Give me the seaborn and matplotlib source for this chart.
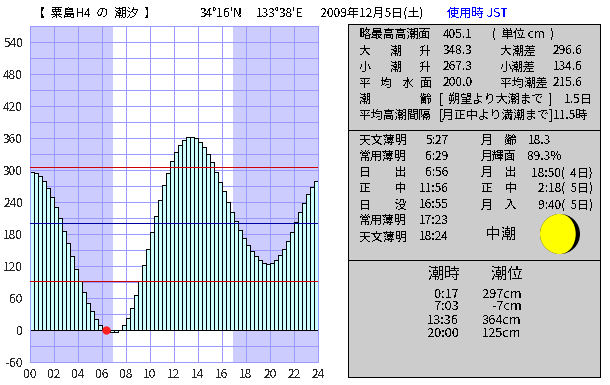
import matplotlib
matplotlib.use("Agg")
import matplotlib.pyplot as plt
from matplotlib.patches import Circle, Ellipse, Rectangle, Wedge
import numpy as np
import pandas as pd
import seaborn as sns

# tide level every 20 minutes (cm)
levels = [296, 295, 289, 279, 266, 249, 231, 210, 186, 163, 139, 114,
          92, 71, 51, 36, 21, 9, 1, -2, -3, -3, 0, 9,
          22, 42, 65, 92, 122, 152, 184, 214, 244, 272, 294, 317,
          334, 347, 356, 362, 362, 360, 352, 343, 330, 315, 296, 277,
          261, 240, 221, 204, 187, 172, 159, 148, 139, 131, 126, 124,
          126, 132, 141, 152, 167, 184, 202, 221, 238, 255, 268, 279]
bar_hours = 1 / 3
sunrise = 6 + 56 / 60
sunset = 16 + 55 / 60
red_levels = [306, 92]
mean_level = 200
dot_hour = [6.33]
dot_level = [0]
moon_lit = 0.893

y_major = list(range(-60, 541, 60))
y_minor = list(range(-30, 571, 60))
x_major = list(range(0, 25, 2))

title = "【  粟島H4  の  潮汐  】"
lat_text = "34°16'N"
lon_text = "133°38'E"
date_text = "2009年12月5日(土)"
zone_text = "使用時 JST"

thin = 0.5

sns.set_style("white")
plt.rcParams['font.family'] = ['Noto Sans CJK JP', 'DejaVu Sans']
plt.rcParams['text.antialiased'] = False

df = pd.DataFrame({
    'hour': (np.arange(len(levels)) + 0.5) * bar_hours,
    'level': levels,
})

fig = plt.figure(figsize=(6.1, 3.85), dpi=100)

# overlay in pixel coordinates for the text panels
ov = fig.add_axes([0, 0, 1, 1])
ov.set_xlim(0, 610)
ov.set_ylim(385, 0)
ov.axis('off')


def put(x, y, s, size=8.6, ha='left', color='black'):
    ov.text(x, y, s, fontsize=size, ha=ha, va='center', color=color)


# header
put(33, 13.5, title, 8.8)
put(200, 13.5, lat_text)
put(256, 13.5, lon_text)
put(320, 13.5, date_text, 8.7)
put(447, 13.5, zone_text, 8.8, color='#0000ff')

# panels
for top, bottom in [(24, 130), (130, 260), (260, 377)]:
    ov.add_patch(Rectangle((347.5, top), 252.5, bottom - top, fc='#cccccc', ec='black', lw=thin, antialiased=False))

# first panel
put(359, 34, "略最高高潮面")
put(443, 34, "405.1")
put(492, 34, "(  単位 cm  )")
for y, c, h, hv, v in [(51, "大", "348.3", "大潮差", "296.6"),
                       (67, "小", "267.3", "小潮差", "134.6")]:
    put(359, y, c)
    put(390, y, "潮")
    put(420, y, "升")
    put(443, y, h)
    put(500, y, hv)
    put(553, y, v)
put(359, 83, "平")
put(380, 83, "均")
put(402, 83, "水")
put(420, 83, "面")
put(443, 83, "200.0")
put(500, 83, "平均潮差")
put(553, 83, "215.6")
put(359, 99, "潮")
put(420, 99, "齢")
put(439, 99, "[  朔望より大潮まで  ]")
put(564, 99, "1.5日")
put(359, 115, "平均高潮間隔")
put(439, 115, "[月正中より満潮まで]")
put(553, 115, "11.5時")

# second panel
sun_rows = [("天文薄明", "5:27"), ("常用薄明", "6:29"), ("日　　出", "6:56"), ("正　　中", "11:56"),
            ("日　　没", "16:55"), ("常用薄明", "17:23"), ("天文薄明", "18:24")]
moon_rows = [("月　齢", "18.3"), ("月輝面", "89.3%"), ("月　出", "18:50(  4日)"),
             ("正　中", "2:18(  5日)"), ("月　入", "9:40(  5日)")]
rows_y = [140.3, 156.7, 172.7, 188.3, 205, 220.7, 236.7]
for y, (name, t) in zip(rows_y, sun_rows):
    put(359, y, name)
    put(448.7, y, t, ha='right')
for y, (name, t) in zip(rows_y, moon_rows):
    put(481, y, name)
    if '日' in t:
        put(592.7, y, t, ha='right')
    else:
        put(528, y, t)
put(501, 234, "中潮", 11.2, ha='center')

# moon, black disc with the lit part on top
moon_x, moon_y, moon_r = 560, 234, 20
ov.add_patch(Circle((moon_x, moon_y), moon_r, fc='black', ec='none'))
ov.add_patch(Wedge((moon_x, moon_y), moon_r, 90, 270, fc='#ffff00', ec='none'))
ov.add_patch(Ellipse((moon_x, moon_y), 2 * moon_r * (2 * moon_lit - 1), 2 * moon_r, fc='#ffff00', ec='none'))

# third panel
tide_times = ["0:17", "7:03", "13:36", "20:00"]
tide_levels = ["297cm", "-7cm", "364cm", "125cm"]
put(444, 274, "潮時", 11.5, ha='center')
put(507, 274, "潮位", 11.5, ha='center')
for y, t, l in zip([294.3, 307, 320, 333.3], tide_times, tide_levels):
    put(459, y, t, 9.2, ha='right')
    put(521.7, y, l, 9.2, ha='right')

# tide chart
ax = fig.add_axes([30 / 610, 23 / 385, 288 / 610, 336 / 385])

sns.barplot(data=df, x='hour', y='level', native_scale=True, width=1, color='#ccffff',
            saturation=1, edgecolor='black', linewidth=thin, ax=ax)
for p in ax.patches:
    p.set_zorder(2)
    p.set_antialiased(False)

ax.axvspan(0, sunrise, color='#ccccff', lw=0, zorder=0)
ax.axvspan(sunset, 24, color='#ccccff', lw=0, zorder=0)

for v in red_levels:
    ax.axhline(v, color='#d00000', lw=thin, zorder=3, antialiased=False)
ax.axhline(mean_level, color='#0000a0', lw=thin, zorder=3, antialiased=False)
sns.scatterplot(x=dot_hour, y=dot_level, color='#ff2020', s=36, linewidth=0, zorder=4, ax=ax)

ax.set_xlim(0, 24)
ax.set_ylim(-60, 570)
ax.set_xticks(x_major)
ax.set_xticklabels([f"{h:02d}" for h in x_major], fontsize=8.6)
ax.set_yticks(y_major)
ax.set_yticklabels(y_major, fontsize=8.6)
ax.set_yticks(y_minor, minor=True)
ax.set_xlabel("")
ax.set_ylabel("")
ax.patch.set_alpha(0)
ax.set_axisbelow(True)
ax.grid(True, which='both', color='#9999ff', lw=thin, antialiased=False)
ax.tick_params(which='both', length=0)
ax.tick_params(axis='y', pad=5)
ax.tick_params(axis='x', pad=4)
for s in ax.spines.values():
    s.set_visible(True)
    s.set_color('#9999ff')
    s.set_linewidth(thin)
    s.set_antialiased(False)

fig.savefig("out.png", dpi=100, facecolor='white')
